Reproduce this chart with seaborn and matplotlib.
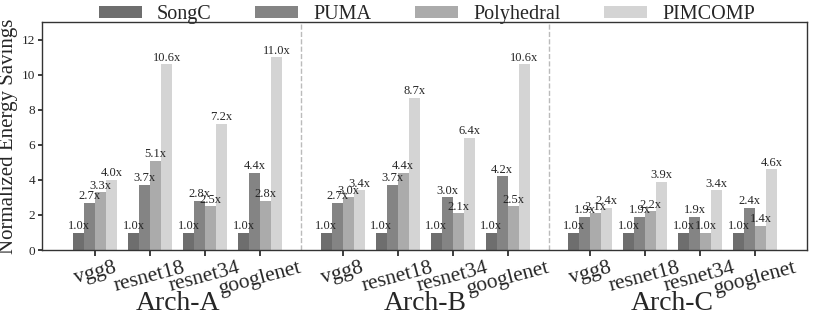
import matplotlib
matplotlib.use("Agg")
import matplotlib.pyplot as plt
import matplotlib.transforms as mtransforms
import pandas as pd
import seaborn as sns

# Data
archs = ["Arch-A", "Arch-B", "Arch-C"]
networks = ["vgg8", "resnet18", "resnet34", "googlenet"]
methods = ["SongC", "PUMA", "Polyhedral", "PIMCOMP"]

songc = [1.0, 1.0, 1.0, 1.0,  1.0, 1.0, 1.0, 1.0,  1.0, 1.0, 1.0, 1.0]
puma = [2.7, 3.7, 2.8, 4.4,  2.7, 3.7, 3.0, 4.2,  1.9, 1.9, 1.9, 2.4]
polyhedral = [3.3, 5.1, 2.5, 2.8,  3.0, 4.4, 2.1, 2.5,  2.1, 2.2, 1.0, 1.4]
pimcomp = [4.0, 10.6, 7.2, 11.0,  3.4, 8.7, 6.4, 10.6,  2.4, 3.9, 3.4, 4.6]

colors = ["#6e6e6e", "#848484", "#ababab", "#d4d4d4"]

# x positions: 4 networks per arch, a 1.5 step between arch blocks
positions = []
for a in range(len(archs)):
    for n in range(len(networks)):
        positions.append(a * 4.5 + n)

rows = []
for m, vals in zip(methods, [songc, puma, polyhedral, pimcomp]):
    for i, v in enumerate(vals):
        rows.append({"pos": positions[i], "method": m, "value": v})
df = pd.DataFrame(rows)

sns.set_theme(style="ticks")
plt.rcParams["font.family"] = ["Liberation Serif", "DejaVu Serif"]

fig, ax = plt.subplots(figsize=(8.13, 3.21), dpi=100)
fig.subplots_adjust(left=0.052, right=0.993, top=0.931, bottom=0.221)

sns.barplot(data=df, x="pos", y="value", hue="method", hue_order=methods,
            palette=colors, native_scale=True, width=0.8, saturation=1,
            linewidth=0, ax=ax, legend=True)

# make the dodged bars touch, 0.2 wide each
for cont in ax.containers:
    for p in cont.patches:
        c = p.get_x() + p.get_width() / 2
        p.set_width(0.2)
        p.set_x(c - 0.1)
        p.set_linewidth(0)

for cont in ax.containers:
    ax.bar_label(cont, fmt="%.1fx", fontsize=9, padding=0.5)

ax.set_xlim(-0.96, 12.95)
ax.set_ylim(0, 13)
ax.set_yticks([0, 2, 4, 6, 8, 10, 12])
ax.tick_params(axis="y", labelsize=9.5, length=3, pad=2)
ax.tick_params(axis="x", labelsize=15.5, length=4, pad=2)
ax.set_xticks(positions)
ax.set_xticklabels(networks * len(archs), rotation=15)
ax.set_xlabel("")
ax.set_ylabel("Normalized Energy Savings", fontsize=15, labelpad=3)

# separators between architectures
for a in range(1, len(archs)):
    ax.axvline(a * 4.5 - 0.75, color="#bbbbbb", linestyle="--", linewidth=1)

trans = mtransforms.blended_transform_factory(ax.transData, ax.transAxes)
for a, name in enumerate(archs):
    ax.text(a * 4.5 + 1.5, -0.265, name, transform=trans, ha="center",
            va="baseline", fontsize=20)

for s in ax.spines.values():
    s.set_color("#333333")
    s.set_linewidth(1)

ax.legend_.remove()
handles, labels = ax.get_legend_handles_labels()
fig.legend(handles[:4], labels[:4], loc="upper center", bbox_to_anchor=(0.525, 1.04),
           ncol=4, frameon=False, fontsize=14.5, handlelength=2.15, handleheight=0.5,
           handletextpad=0.75, columnspacing=2.15)

fig.savefig("out.png", dpi=100)
